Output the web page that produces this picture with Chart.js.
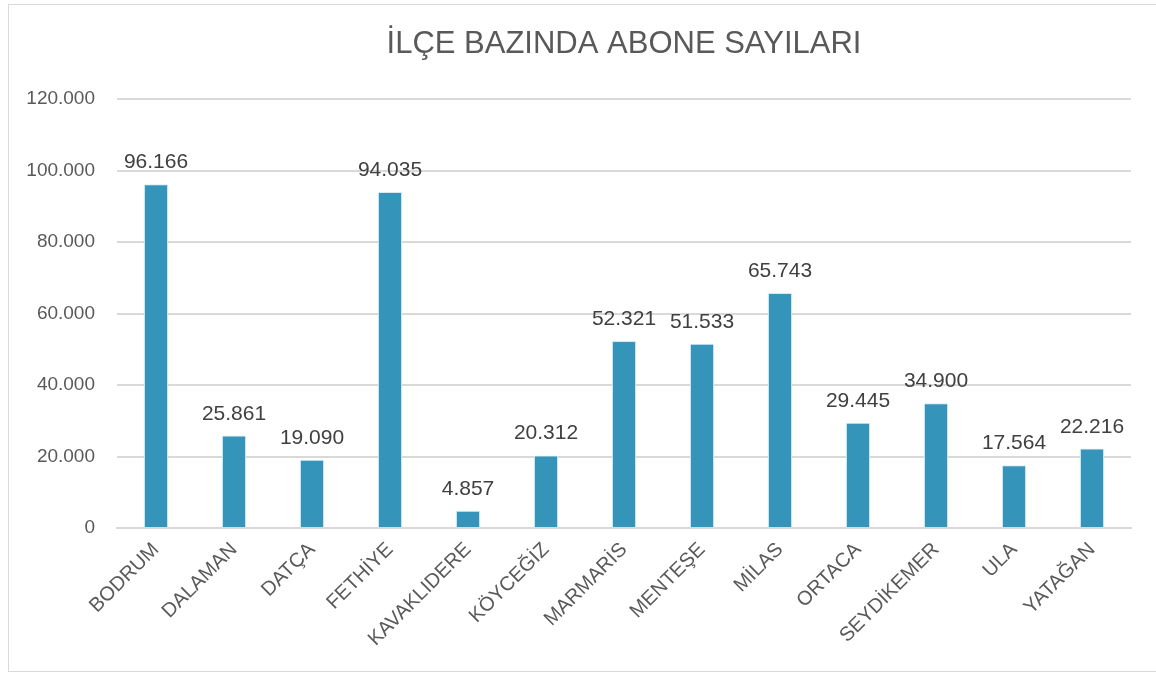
<!DOCTYPE html>
<html>
<head>
<meta charset="utf-8">
<script src="https://cdn.jsdelivr.net/npm/chart.js@4"></script>
<style>
  html, body { margin: 0; padding: 0; background: #fff; }
  #wrap { position: absolute; left: 8px; top: 4px; width: 1160px; height: 668px; border: 1px solid #d9d9d9; box-sizing: border-box; }
  #holder { position: absolute; left: 0; top: 0; width: 1156px; height: 675px; }
</style>
</head>
<body>
<div id="wrap"></div>
<div id="holder"><canvas id="chart"></canvas></div>
<script>
// ilçe names and subscriber counts
const districts = ['BODRUM', 'DALAMAN', 'DATÇA', 'FETHİYE', 'KAVAKLIDERE', 'KÖYCEĞİZ', 'MARMARİS',
  'MENTEŞE', 'MİLAS', 'ORTACA', 'SEYDİKEMER', 'ULA', 'YATAĞAN'];
const subscribers = [96166, 25861, 19090, 94035, 4857, 20312, 52321, 51533, 65743, 29445, 34900, 17564, 22216];
const yTicks = [0, 20000, 40000, 60000, 80000, 100000, 120000];
const chartTitle = 'İLÇE BAZINDA ABONE SAYILARI';

const FONT = "'Liberation Sans Narrow', 'Arial Narrow', 'Liberation Sans', sans-serif";
const TXT = '#595959';

// 96166 -> "96.166"
const fmt = v => String(v).replace(/\B(?=(\d{3})+(?!\d))/g, '.');

// draws the value above each bar, and the title centred on the plot area
const barValues = {
  id: 'barValues',
  afterDatasetsDraw(chart) {
    const ctx = chart.ctx;
    const meta = chart.getDatasetMeta(0);
    ctx.save();
    ctx.font = '21px ' + FONT;
    ctx.fillStyle = '#404040';
    ctx.textAlign = 'center';
    ctx.textBaseline = 'alphabetic';
    meta.data.forEach((bar, i) => {
      ctx.fillText(fmt(subscribers[i]), bar.x, bar.y - 16);
    });

    const area = chart.chartArea;
    ctx.font = '31px ' + FONT;
    ctx.fillStyle = TXT;
    ctx.textBaseline = 'middle';
    ctx.fillText(chartTitle, (area.left + area.right) / 2, 44);
    ctx.restore();
  }
};

new Chart(document.getElementById('chart'), {
  type: 'bar',
  data: {
    labels: districts,
    datasets: [{
      data: subscribers,
      backgroundColor: '#3494ba',
      borderColor: '#d6ecf4',
      borderWidth: 1,
      barPercentage: 0.31,
      categoryPercentage: 1
    }]
  },
  options: {
    responsive: true,
    maintainAspectRatio: false,
    animation: false,
    layout: { padding: { left: 0, right: 25, top: 0, bottom: 0 } },
    plugins: {
      legend: { display: false },
      tooltip: { enabled: false },
      title: {
        // reserves the space; the text itself is drawn by barValues
        display: true,
        text: chartTitle,
        color: 'rgba(0,0,0,0)',
        font: { family: FONT, size: 31, weight: 'normal' },
        padding: { top: 25, bottom: 37 }
      }
    },
    scales: {
      x: {
        grid: { display: false, drawTicks: false },
        border: { display: true, color: '#d9d9d9', width: 2 },
        afterFit(axis) { axis.height = 147; },
        ticks: {
          color: TXT,
          font: { family: FONT, size: 20 },
          maxRotation: 45,
          minRotation: 45,
          padding: 10,
          autoSkip: false
        }
      },
      y: {
        min: 0,
        max: 120000,
        afterBuildTicks(axis) { axis.ticks = yTicks.map(v => ({ value: v })); },
        afterFit(axis) { axis.width = 117; },
        grid: { color: '#d9d9d9', lineWidth: 2, drawTicks: false },
        border: { display: false },
        ticks: {
          color: TXT,
          font: { family: FONT, size: 19 },
          padding: 22,
          callback: v => fmt(v)
        }
      }
    }
  },
  plugins: [barValues]
});
</script>
</body>
</html>
